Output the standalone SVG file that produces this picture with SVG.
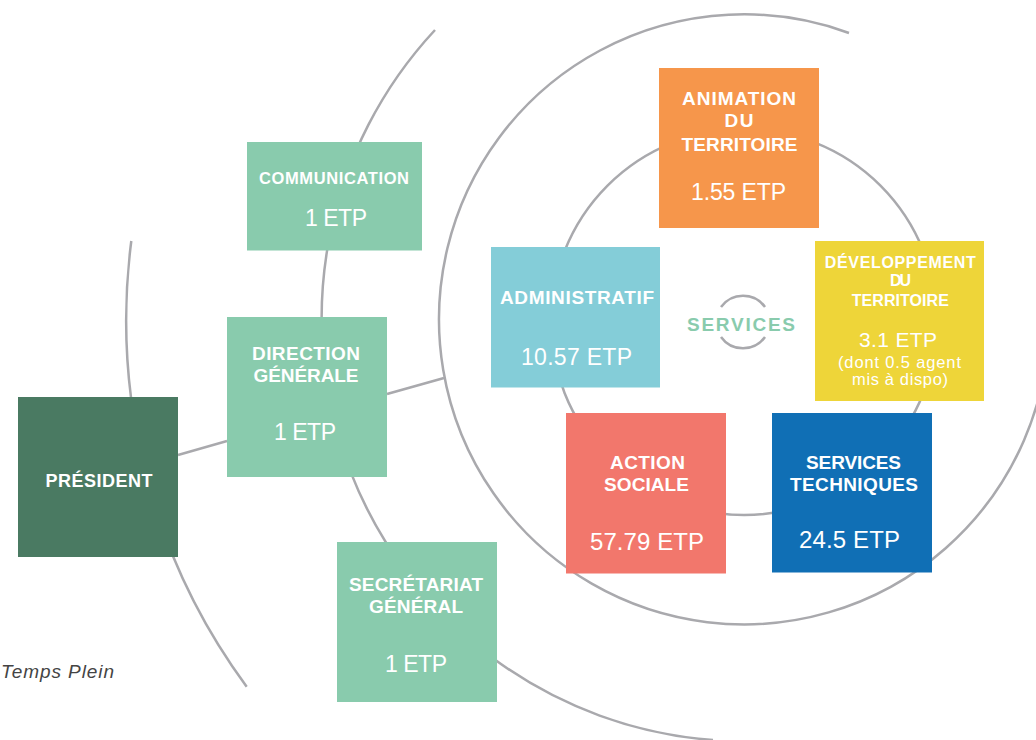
<svg xmlns="http://www.w3.org/2000/svg" width="1036" height="740" viewBox="0 0 1036 740">
<style>
.ln{fill:none;stroke:#a9a9ad;stroke-width:2.5}
.h{font-family:"Liberation Sans",Arial,sans-serif;font-weight:bold;fill:#ffffff;text-anchor:middle}
.v{font-family:"Liberation Sans",Arial,sans-serif;fill:#ffffff;text-anchor:middle}
.lbl{font-family:"Liberation Sans",Arial,sans-serif;font-weight:bold;fill:#89cbad;text-anchor:middle;font-size:19px}
.note{font-family:"Liberation Sans",Arial,sans-serif;font-style:italic;fill:#444444;font-size:19px}
</style>
<rect width="1036" height="740" fill="#ffffff"/>
<g id="connectors">
<path class="ln" d="M131.3 241 A618 618 0 0 0 246.7 686.7"/>
<path class="ln" d="M435 30 A423 423 0 0 0 713 740"/>
<path class="ln" d="M849 33 A305 305 0 1 0 1049 321"/>
<circle class="ln" cx="744" cy="322" r="193"/>
<line class="ln" x1="178" y1="455" x2="227" y2="441"/>
<line class="ln" x1="387" y1="394" x2="444" y2="378"/>
</g>
<g id="services-label">
<path class="ln" d="M721 307 A27 27 0 0 1 765 307"/>
<path class="ln" d="M721 337 A27 27 0 0 0 765 337"/>
<text class="lbl" x="741" y="331" textLength="108" lengthAdjust="spacing">SERVICES</text>
</g>
<g id="president">
<rect x="18" y="397" width="160" height="160" fill="#4a7a62"/>
<text class="h" x="99" y="486.5" font-size="18" textLength="107" lengthAdjust="spacing">PRÉSIDENT</text>
</g>
<g id="direction-generale">
<rect x="227" y="317" width="160" height="160" fill="#89cbad"/>
<text class="h" x="306" y="360" font-size="19" textLength="108" lengthAdjust="spacing">DIRECTION</text>
<text class="h" x="306" y="381.7" font-size="19" textLength="105" lengthAdjust="spacing">GÉNÉRALE</text>
<text class="v" x="305" y="440" font-size="23" textLength="62" lengthAdjust="spacing">1 ETP</text>
</g>
<g id="communication">
<rect x="247" y="142" width="175" height="108.5" fill="#89cbad"/>
<text class="h" x="334" y="184.3" font-size="16.5" textLength="150" lengthAdjust="spacing">COMMUNICATION</text>
<text class="v" x="336" y="226" font-size="23" textLength="62" lengthAdjust="spacing">1 ETP</text>
</g>
<g id="secretariat-general">
<rect x="337" y="542" width="160" height="160" fill="#89cbad"/>
<text class="h" x="416" y="590.7" font-size="19" textLength="134" lengthAdjust="spacing">SECRÉTARIAT</text>
<text class="h" x="416" y="613.3" font-size="19" textLength="94" lengthAdjust="spacing">GÉNÉRAL</text>
<text class="v" x="416" y="671.7" font-size="23" textLength="62" lengthAdjust="spacing">1 ETP</text>
</g>
<g id="administratif">
<rect x="491" y="247" width="169" height="140.5" fill="#84cdd8"/>
<text class="h" x="577" y="304" font-size="19" textLength="154" lengthAdjust="spacing">ADMINISTRATIF</text>
<text class="v" x="576.5" y="365" font-size="23" textLength="111" lengthAdjust="spacing">10.57 ETP</text>
</g>
<g id="animation">
<rect x="659" y="68" width="160" height="160" fill="#f6964b"/>
<text class="h" x="739" y="105" font-size="19" textLength="114" lengthAdjust="spacing">ANIMATION</text>
<text class="h" x="739" y="127.3" font-size="19" textLength="29" lengthAdjust="spacing">DU</text>
<text class="h" x="739.5" y="150.7" font-size="19" textLength="116" lengthAdjust="spacing">TERRITOIRE</text>
<text class="v" x="738.5" y="200" font-size="23" textLength="95" lengthAdjust="spacing">1.55 ETP</text>
</g>
<g id="developpement">
<rect x="815" y="241" width="169" height="160" fill="#eed539"/>
<text class="h" x="900.3" y="268.3" font-size="16" textLength="151" lengthAdjust="spacing">DÉVELOPPEMENT</text>
<text class="h" x="900.5" y="285.5" font-size="16" textLength="21" lengthAdjust="spacing">DU</text>
<text class="h" x="900.3" y="306" font-size="16" textLength="97" lengthAdjust="spacing">TERRITOIRE</text>
<text class="v" x="898" y="346.7" font-size="21" textLength="78" lengthAdjust="spacing">3.1 ETP</text>
<text class="v" x="899.5" y="368.3" font-size="16.5" textLength="123" lengthAdjust="spacing">(dont 0.5 agent</text>
<text class="v" x="900" y="385" font-size="16.5" textLength="96" lengthAdjust="spacing">mis à dispo)</text>
</g>
<g id="action-sociale">
<rect x="566" y="413" width="160" height="160.5" fill="#f2776c"/>
<text class="h" x="647.5" y="468.7" font-size="19" textLength="75" lengthAdjust="spacing">ACTION</text>
<text class="h" x="646.5" y="491" font-size="19" textLength="85" lengthAdjust="spacing">SOCIALE</text>
<text class="v" x="647" y="550" font-size="24" textLength="114" lengthAdjust="spacing">57.79 ETP</text>
</g>
<g id="services-techniques">
<rect x="772" y="413" width="160" height="159.5" fill="#106fb5"/>
<text class="h" x="853.5" y="469" font-size="19" textLength="95" lengthAdjust="spacing">SERVICES</text>
<text class="h" x="854" y="491" font-size="19" textLength="128" lengthAdjust="spacing">TECHNIQUES</text>
<text class="v" x="849.5" y="547.7" font-size="24" textLength="101" lengthAdjust="spacing">24.5 ETP</text>
</g>
<text class="note" x="1" y="678" textLength="113" lengthAdjust="spacing">Temps Plein</text>
</svg>
